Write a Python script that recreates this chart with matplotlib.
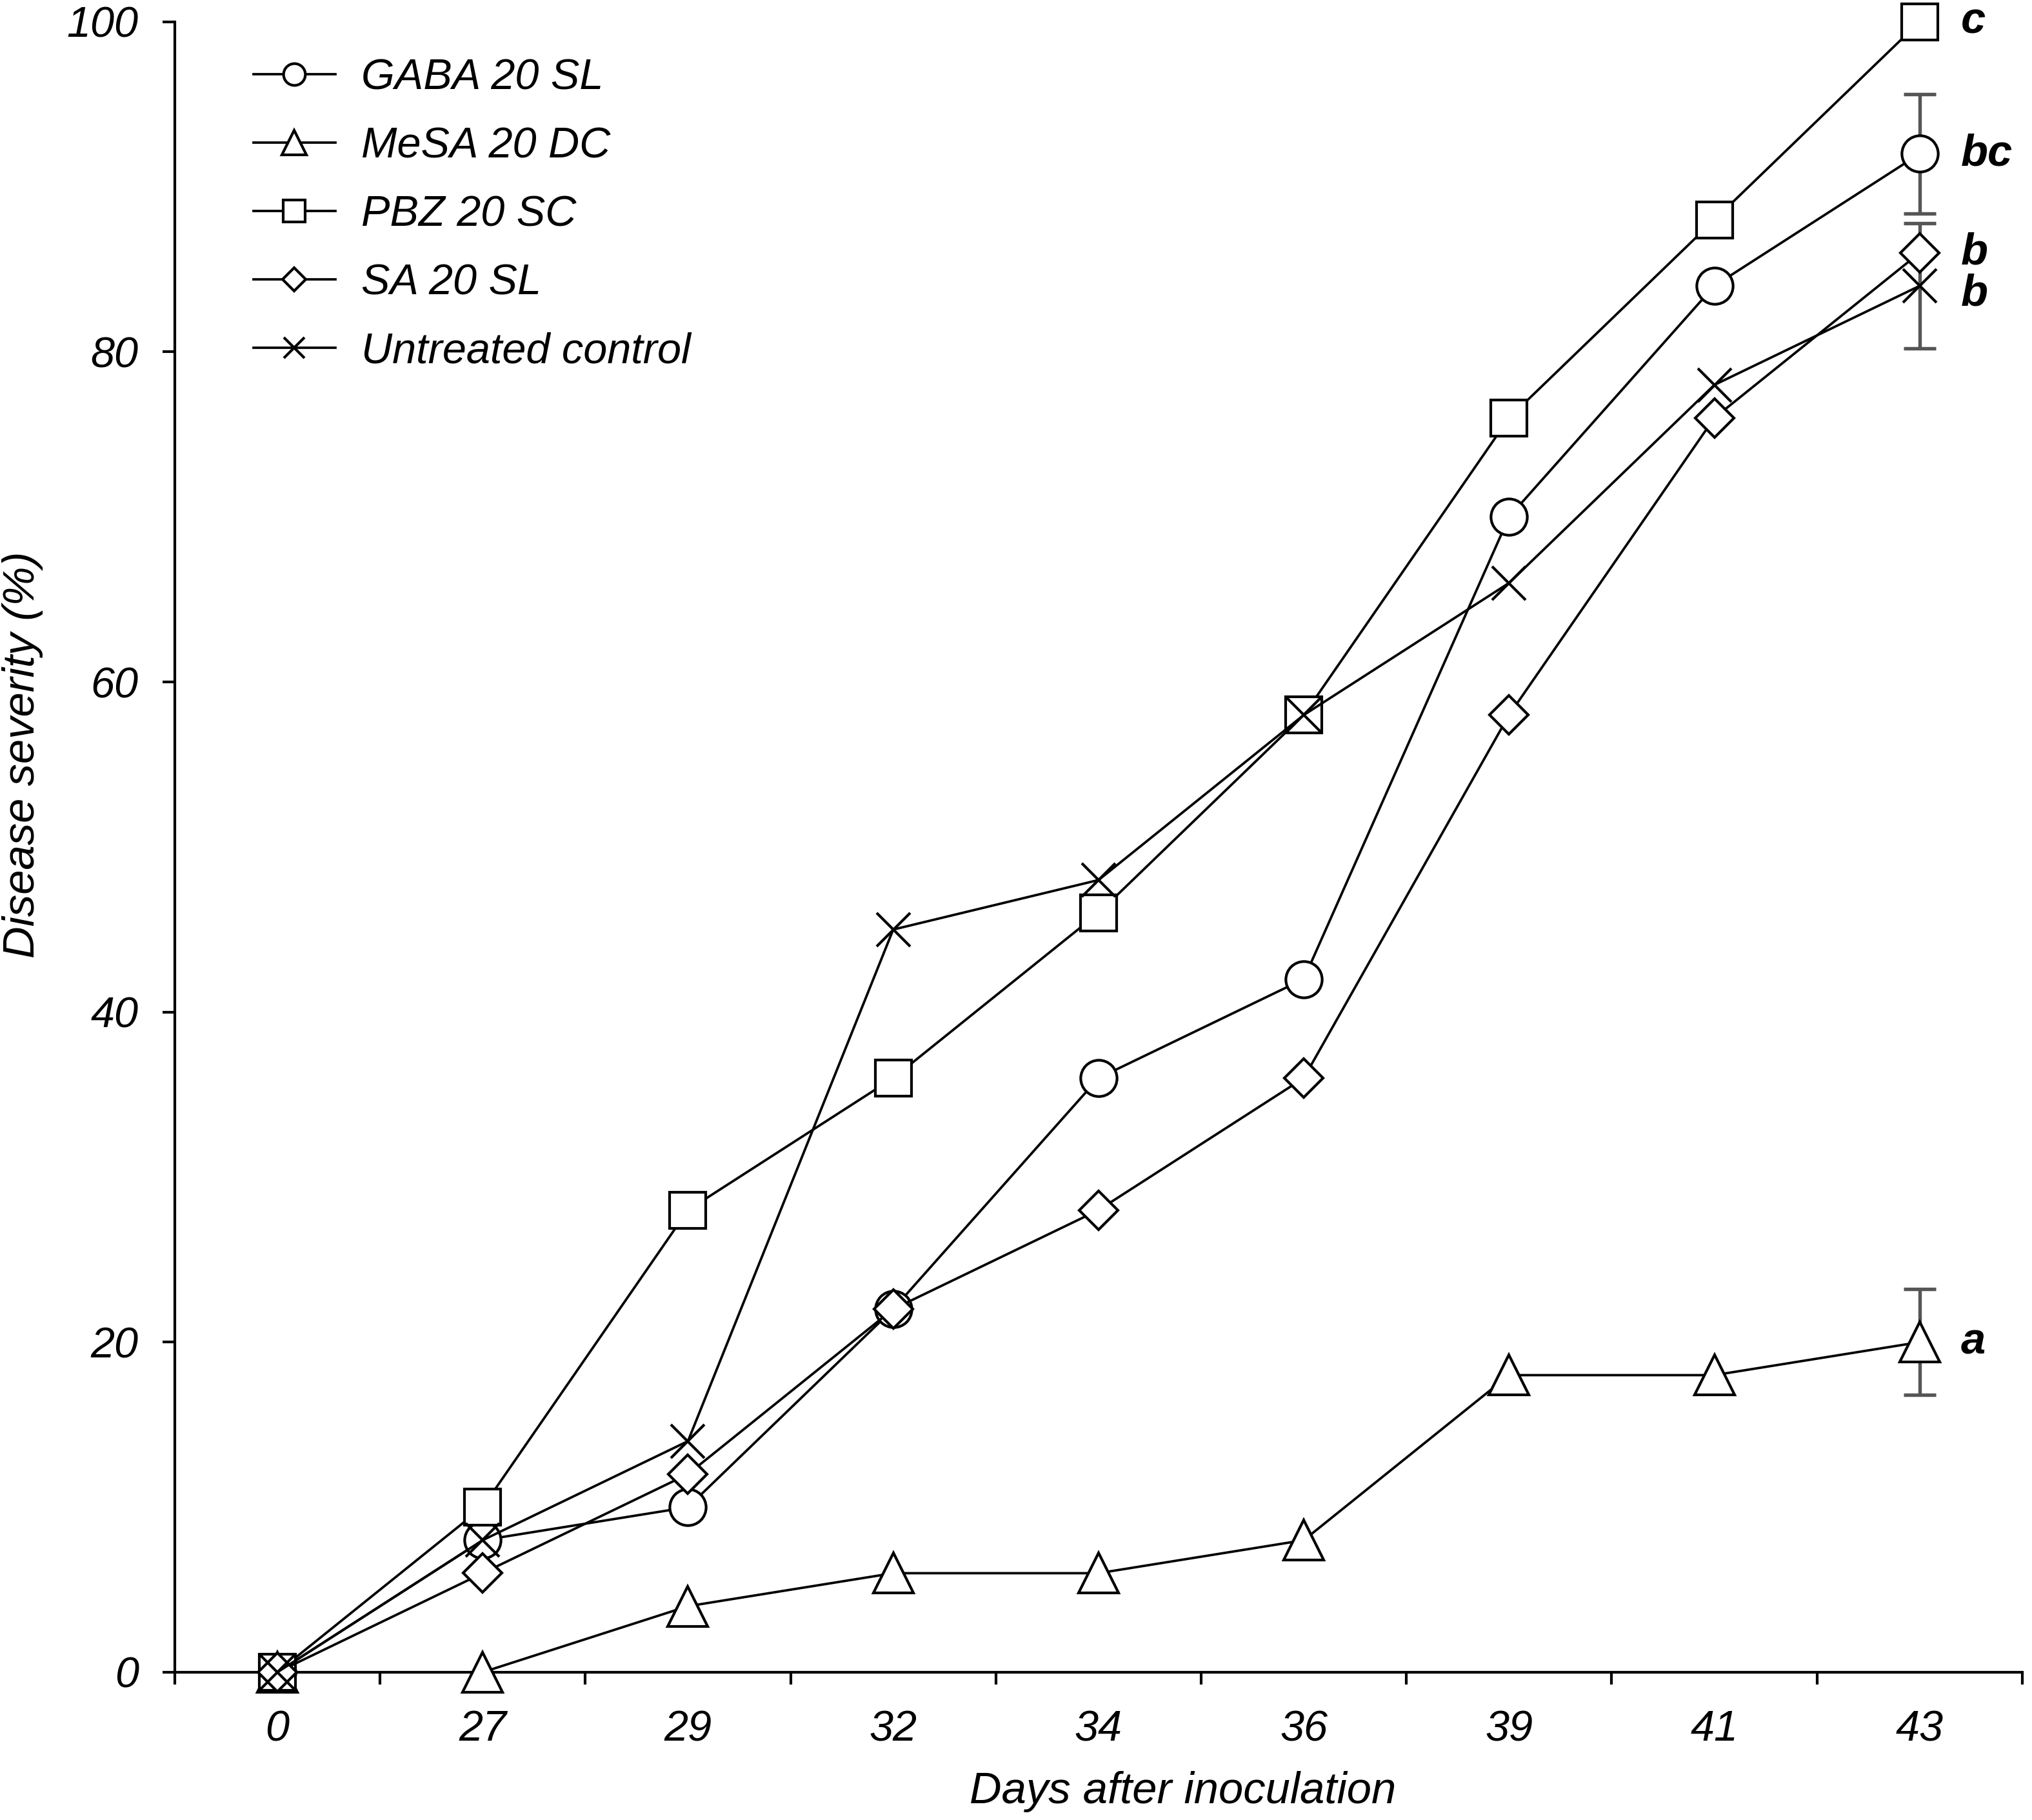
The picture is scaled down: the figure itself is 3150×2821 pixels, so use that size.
import matplotlib
matplotlib.use("Agg")
import matplotlib.pyplot as plt
import numpy as np

plt.rcParams['font.family'] = ['Liberation Sans', 'DejaVu Sans']
plt.rcParams['font.style'] = 'italic'

# data
days = ['0', '27', '29', '32', '34', '36', '39', '41', '43']
gaba = [0, 8, 10, 22, 36, 42, 70, 84, 92]
mesa = [0, 0, 4, 6, 6, 8, 18, 18, 20]
pbz = [0, 10, 28, 36, 46, 58, 76, 88, 100]
sa = [0, 6, 12, 22, 28, 36, 58, 76, 86]
control = [0, 8, 14, 45, 48, 58, 66, 78, 84]

# error bars only shown on the last day
err_gaba = 3.6
err_mesa = 3.2
err_control = 3.8

letters = ['c', 'bc', 'b', 'b', 'a']
letter_y = [100, 92, 86, 83.5, 20]

fig = plt.figure(figsize=(10.5, 2821 / 300))
ax = fig.add_axes([0.086, 0.0812, 0.9092, 0.9068])

x = np.arange(len(days))
lw = 0.9
common = dict(color='black', lw=lw, mfc='white', mec='black', mew=1.0)

ax.plot(x, gaba, marker='o', ms=13.5, label='GABA 20 SL', **common)
ax.plot(x, mesa, marker='^', ms=15, label='MeSA 20 DC', **common)
ax.plot(x, pbz, marker='s', ms=13.5, label='PBZ 20 SC', **common)
ax.plot(x, sa, marker='D', ms=10.2, label='SA 20 SL', **common)
ax.plot(x, control, marker='x', ms=12.5, label='Untreated control', **common)

last = x[-1]
ebar = dict(fmt='none', ecolor='#555555', elinewidth=1.3, capsize=6, capthick=1.3, zorder=1)
ax.errorbar([last], [gaba[-1]], yerr=[err_gaba], **ebar)
ax.errorbar([last], [mesa[-1]], yerr=[err_mesa], **ebar)
ax.errorbar([last], [control[-1]], yerr=[err_control], **ebar)

for lab, yy in zip(letters, letter_y):
    ax.text(last + 0.2, yy, lab, fontsize=16.5, fontweight='bold', style='italic',
            ha='left', va='center')

ax.set_xlim(-0.5, 8.5)
ax.set_ylim(0, 100)
ax.set_xticks(x)
ax.set_xticklabels(days)
ax.set_xticks(np.arange(-0.5, 9, 1), minor=True)
ax.tick_params(axis='x', which='major', length=0, pad=14, labelsize=16)
ax.tick_params(axis='x', which='minor', length=4.5, width=1.0, direction='out')
ax.set_yticks([0, 20, 40, 60, 80, 100])
ax.tick_params(axis='y', which='major', length=4.5, width=1.0, pad=9, labelsize=16)

for s in ['top', 'right']:
    ax.spines[s].set_visible(False)
for s in ['left', 'bottom']:
    ax.spines[s].set_linewidth(1.0)
ax.spines['bottom'].set_zorder(0.5)

ax.set_xlabel('Days after inoculation', fontsize=16.5)
ax.xaxis.set_label_coords(0.5457, -0.060)
ax.set_ylabel('Disease severity (%)', fontsize=16.5)
ax.yaxis.set_label_coords(-0.0712, 0.556)

leg = ax.legend(loc='upper left', bbox_to_anchor=(0.1248, 0.968),
                bbox_transform=fig.transFigure, frameon=False, fontsize=16,
                handlelength=1.9, handletextpad=0.6, labelspacing=0.66,
                borderpad=0, borderaxespad=0, markerscale=0.6)

for ln in ax.lines:
    ln.set_clip_on(False)

fig.savefig('out.png', dpi=300)
